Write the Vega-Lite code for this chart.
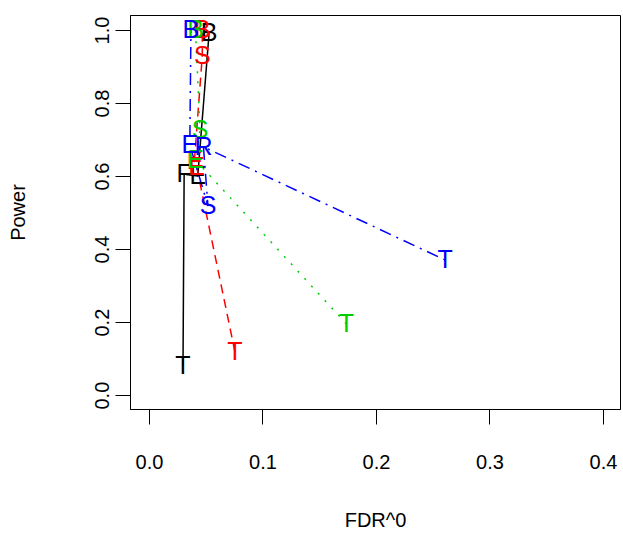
{
  "$schema": "https://vega.github.io/schema/vega-lite/v6.json",
  "width": 490,
  "height": 394,
  "autosize": {"type": "none"},
  "padding": {"left": 130, "top": 15, "right": 3, "bottom": 124},
  "background": "white",
  "config": {
    "view": {"stroke": "black", "strokeWidth": 1},
    "font": "Liberation Sans",
    "axis": {
      "grid": false,
      "domainColor": "black",
      "tickColor": "black",
      "tickSize": 15,
      "labelFontSize": 20,
      "titleFontSize": 20,
      "labelColor": "black",
      "titleColor": "black",
      "titleFontWeight": "normal",
      "labelFont": "Liberation Sans",
      "titleFont": "Liberation Sans"
    }
  },
  "data": {
    "values": [
      {"series": "k", "label": "T", "x": 0.030, "y": 0.080, "ord": 1},
      {"series": "k", "label": "F", "x": 0.031, "y": 0.605, "ord": 2},
      {"series": "k", "label": "E", "x": 0.043, "y": 0.600, "ord": 3},
      {"series": "k", "label": "B", "x": 0.053, "y": 0.992, "ord": 4},
      {"series": "r", "label": "T", "x": 0.0758, "y": 0.118, "ord": 1},
      {"series": "r", "label": "E", "x": 0.042, "y": 0.625, "ord": 2},
      {"series": "r", "label": "F", "x": 0.040, "y": 0.640, "ord": 3},
      {"series": "r", "label": "S", "x": 0.047, "y": 0.930, "ord": 4},
      {"series": "r", "label": "B", "x": 0.047, "y": 1.000, "ord": 5},
      {"series": "g", "label": "T", "x": 0.174, "y": 0.195, "ord": 1},
      {"series": "g", "label": "E", "x": 0.041, "y": 0.644, "ord": 2},
      {"series": "g", "label": "S", "x": 0.045, "y": 0.726, "ord": 3},
      {"series": "g", "label": "B", "x": 0.041, "y": 1.000, "ord": 4},
      {"series": "b", "label": "T", "x": 0.261, "y": 0.370, "ord": 1},
      {"series": "b", "label": "R", "x": 0.048, "y": 0.680, "ord": 2},
      {"series": "b", "label": "S", "x": 0.052, "y": 0.518, "ord": 3},
      {"series": "b", "label": "E", "x": 0.036, "y": 0.685, "ord": 4},
      {"series": "b", "label": "B", "x": 0.037, "y": 1.000, "ord": 5}
    ]
  },
  "encoding": {
    "x": {
      "field": "x",
      "type": "quantitative",
      "scale": {"domain": [-0.0167, 0.415], "nice": false, "zero": false},
      "axis": {"values": [0, 0.1, 0.2, 0.3, 0.4], "format": ".1f", "labelPadding": 28, "title": "FDR^0", "titlePadding": 38}
    },
    "y": {
      "field": "y",
      "type": "quantitative",
      "scale": {"domain": [-0.038, 1.041], "nice": false, "zero": false},
      "axis": {"values": [0, 0.2, 0.4, 0.6, 0.8, 1.0], "format": ".1f", "labelAngle": -90, "labelAlign": "center", "labelBaseline": "bottom", "labelPadding": 3, "title": "Power", "titlePadding": 64}
    },
    "color": {
      "field": "series",
      "type": "nominal",
      "scale": {"domain": ["k", "r", "g", "b"], "range": ["#000000", "#FF0000", "#00CD00", "#0000FF"]},
      "legend": null
    }
  },
  "layer": [
    {
      "mark": {"type": "line", "strokeWidth": 1.5},
      "encoding": {
        "order": {"field": "ord", "type": "quantitative"},
        "strokeDash": {
          "field": "series",
          "type": "nominal",
          "scale": {"domain": ["k", "r", "g", "b"], "range": [[1, 0], [9, 6], [2, 8], [2, 6, 12, 6]]},
          "legend": null
        }
      }
    },
    {
      "mark": {"type": "text", "fontSize": 25, "align": "center", "baseline": "middle", "font": "Liberation Sans"},
      "encoding": {"text": {"field": "label"}}
    }
  ]
}
